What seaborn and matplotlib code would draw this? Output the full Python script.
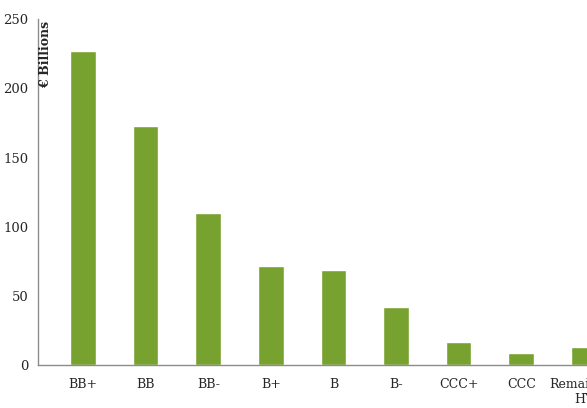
import matplotlib
matplotlib.use("Agg")
import matplotlib.pyplot as plt
import seaborn as sns
import pandas as pd

# ratings and outstanding amounts (EUR bn)
RATINGS = ["BB+", "BB", "BB-", "B+", "B", "B-", "CCC+", "CCC", "Remaining\nHY"]
AMOUNTS = [227, 173, 110, 72, 69, 42, 17, 9, 13]

BAR_COLOR = "#78a22f"

sns.set_style("white")
plt.rcParams["font.family"] = ["DejaVu Serif"]

df = pd.DataFrame({"rating": RATINGS, "amount": AMOUNTS})

fig = plt.figure(figsize=(5.87, 4.08), dpi=100)
ax = fig.add_axes([0.0647, 0.105, 1.0 - 0.0647, 0.848])

sns.barplot(data=df, x="rating", y="amount", color=BAR_COLOR, saturation=1,
            width=0.41, ax=ax)

ax.set_xlim(-0.72, 8.05)
ax.set_ylim(0, 250)
ax.set_yticks([0, 50, 100, 150, 200, 250])
ax.set_xlabel("")
ax.set_ylabel("")

for side in ["top", "right"]:
    ax.spines[side].set_visible(False)
for side in ["left", "bottom"]:
    ax.spines[side].set_color("#8c8c8c")
    ax.spines[side].set_linewidth(1.0)

ax.tick_params(axis="y", length=3, color="#8c8c8c", labelsize=9.5, pad=4)
ax.tick_params(axis="x", length=0, labelsize=9, pad=9)

ax.text(0.002, 0.995, "€ Billions", transform=ax.transAxes, rotation=90,
        ha="left", va="top", fontsize=9, fontweight="bold")

fig.savefig("out.png", dpi=100)
plt.close(fig)
